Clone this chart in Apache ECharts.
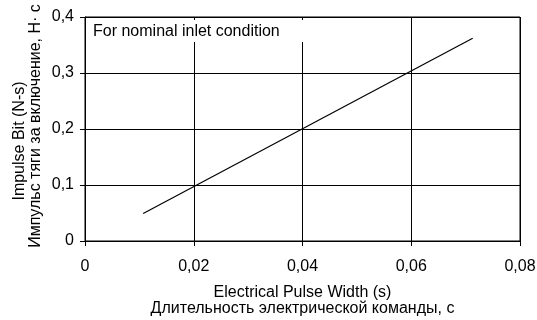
<!DOCTYPE html>
<html>
<head>
<meta charset="utf-8">
<script src="https://cdn.jsdelivr.net/npm/echarts@6/dist/echarts.min.js"></script>
<style>
  html, body { margin: 0; padding: 0; background: #fff; }
  #chart { width: 537px; height: 320px; }
</style>
</head>
<body>
<div id="chart"></div>
<script>
// Impulse bit vs. electrical pulse width (nominal inlet condition)
const pulseWidth = [0.0107, 0.0713];   // s
const impulseBit = [0.049, 0.362];     // N·s

const xTickValues = [0, 0.02, 0.04, 0.06, 0.08];
const xTickLabels = ['0', '0,02', '0,04', '0,06', '0,08'];
const yTickValues = [0, 0.1, 0.2, 0.3, 0.4];
const yTickLabels = ['0', '0,1', '0,2', '0,3', '0,4'];

const xTitle = 'Electrical Pulse Width (s)\nДлительность электрической команды, с';
const yTitleEn = 'Impulse Bit (N-s)';
const yTitleRu = 'Импульс тяги за включение, Н· с';
const noteText = 'For nominal inlet condition';

const FONT = '"Liberation Sans", Arial, sans-serif';
const FS = 16;

function tickLabel(values, labels) {
  return function (v) {
    for (let i = 0; i < values.length; i++) {
      if (Math.abs(values[i] - v) < 1e-9) return labels[i];
    }
    return '';
  };
}

const chart = echarts.init(document.getElementById('chart'), null, { renderer: 'canvas' });

chart.setOption({
  animation: false,
  backgroundColor: '#fff',
  textStyle: { fontFamily: FONT, color: '#000' },
  grid: { left: 85, right: 17, top: 17, bottom: 79, show: true, borderColor: '#000', borderWidth: 1,
          containLabel: false, outerBoundsMode: 'none' },
  xAxis: {
    type: 'value',
    min: 0, max: 0.08, interval: 0.02,
    axisLine: { show: true, onZero: false, lineStyle: { color: '#000', width: 1 } },
    axisTick: { show: true, length: 5, lineStyle: { color: '#000' } },
    axisLabel: { color: '#000', fontSize: FS, fontFamily: FONT, margin: 18,
                 formatter: tickLabel(xTickValues, xTickLabels) },
    splitLine: { show: true, lineStyle: { color: '#000', width: 1 } },
    name: xTitle,
    nameLocation: 'middle',
    nameGap: 44,
    nameTextStyle: { color: '#000', fontSize: FS, fontFamily: FONT, lineHeight: 16 }
  },
  yAxis: {
    type: 'value',
    min: 0, max: 0.4, interval: 0.1,
    axisLine: { show: true, lineStyle: { color: '#000', width: 1 } },
    axisTick: { show: true, length: 5, lineStyle: { color: '#000' } },
    axisLabel: { color: '#000', fontSize: FS, fontFamily: FONT, margin: 11,
                 formatter: tickLabel(yTickValues, yTickLabels) },
    splitLine: { show: true, lineStyle: { color: '#000', width: 1 } }
  },
  graphic: [
    { type: 'rect', z: 10, shape: { x: 86, y: 20, width: 219, height: 22 },
      style: { fill: '#fff' } },
    { type: 'text', z: 11, x: 93, y: 32,
      style: { text: noteText, fill: '#000', font: FS + 'px ' + FONT, textVerticalAlign: 'middle' } },
    { type: 'text', z: 11, x: 20, y: 141, rotation: Math.PI / 2,
      style: { text: yTitleEn, fill: '#000', font: FS + 'px ' + FONT,
               textAlign: 'center', textVerticalAlign: 'middle' } },
    { type: 'text', z: 11, x: 36, y: 126, rotation: Math.PI / 2,
      style: { text: yTitleRu, fill: '#000', font: FS + 'px ' + FONT,
               textAlign: 'center', textVerticalAlign: 'middle' } }
  ],
  series: [{
    type: 'line',
    data: pulseWidth.map((x, i) => [x, impulseBit[i]]),
    showSymbol: false,
    lineStyle: { color: '#000', width: 1.2 },
    z: 5
  }]
});
</script>
</body>
</html>
